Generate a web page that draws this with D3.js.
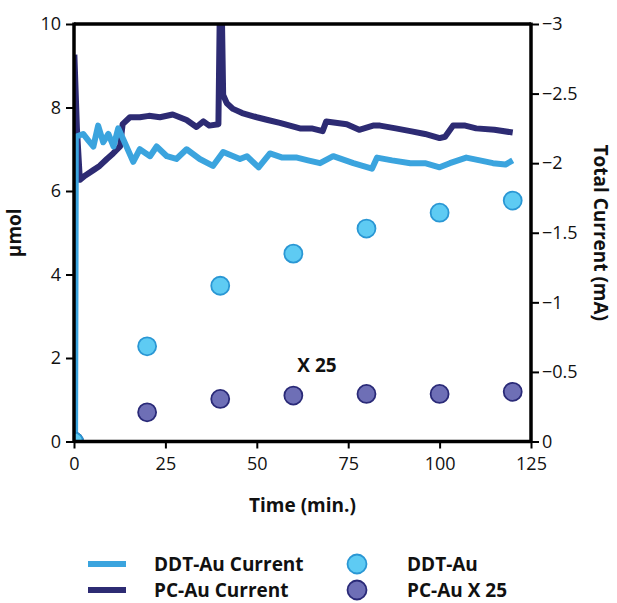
<!DOCTYPE html>
<html><head><meta charset="utf-8">
<script src="https://cdn.jsdelivr.net/npm/d3@7"></script>
<style>
html,body{margin:0;padding:0;background:#fff;}
text{font-family:"Open Sans",sans-serif;fill:#111;}
</style></head>
<body>
<svg id="chart" width="617" height="603"></svg>
<script>
// ---- data ----
const sampleTimes = [0, 20, 40, 60, 80, 100, 120];
const ddtAu = [0, 2.28, 3.73, 4.50, 5.10, 5.48, 5.77];        // µmol
const pcAuX25 = [0, 0.70, 1.02, 1.10, 1.14, 1.14, 1.19];      // µmol (x25)

const ddtCurrentTime = [0, 0.3, 0.5, 2.5, 4, 5.3, 6.6, 8, 9.4, 10.8, 12.1, 13.5, 16.2, 18, 20.8, 22.6, 25.4, 28, 30.8, 34.4, 38, 40.8, 45.4, 47.3, 50.5, 53.6, 57, 61, 64, 67.3, 70.9, 76.4, 81.5, 82.9, 87, 92, 96, 100, 102.8, 107.3, 111, 114.6, 118, 120];
const ddtCurrent = [0, 0, -2.19, -2.21, -2.16, -2.12, -2.27, -2.15, -2.21, -2.12, -2.25, -2.17, -2.01, -2.10, -2.05, -2.12, -2.05, -2.03, -2.10, -2.03, -1.98, -2.08, -2.03, -2.05, -1.97, -2.07, -2.04, -2.04, -2.02, -2.00, -2.05, -2.00, -1.96, -2.04, -2.02, -2.00, -2.00, -1.97, -2.00, -2.04, -2.02, -2.00, -1.99, -2.02];

const pcCurrentTime = [0.1, 0.8, 1.6, 3, 5.3, 7, 9, 10.7, 12.6, 13.3, 15.3, 18, 20.5, 23.5, 27, 30.8, 33.5, 35.4, 37, 39.5, 39.9, 40.4, 40.8, 41.8, 43.5, 46, 50, 53, 56.3, 61.8, 65, 68, 69, 74.6, 78, 81.8, 83.7, 88, 92, 96, 100, 101.5, 103.7, 107, 110, 115, 120];
const pcCurrent = [-2.78, -2.25, -1.88, -1.91, -1.95, -1.98, -2.03, -2.07, -2.12, -2.28, -2.33, -2.33, -2.34, -2.33, -2.35, -2.31, -2.26, -2.30, -2.27, -2.28, -3.15, -3.15, -2.49, -2.43, -2.39, -2.36, -2.33, -2.31, -2.29, -2.25, -2.25, -2.23, -2.30, -2.28, -2.24, -2.27, -2.27, -2.25, -2.23, -2.21, -2.18, -2.19, -2.27, -2.27, -2.25, -2.24, -2.22];

const xTicks = [0, 25, 50, 75, 100, 125];
const yLeftTicks = [0, 2, 4, 6, 8, 10];
const yRightTicks = [0, -0.5, -1, -1.5, -2, -2.5, -3];

// ---- layout ----
const svg = d3.select("#chart");
const L = 74, R = 531, T = 24, B = 441.5;
const cLightLine = "#3ba4de", cDarkLine = "#2d2b73";
const cLightFill = "#5ecbf3", cLightStroke = "#2a97d4";
const cDarkFill = "#6e6fb6", cDarkStroke = "#2a2a78";

const x = d3.scaleLinear().domain([0, 125]).range([L, R]);
const yL = d3.scaleLinear().domain([0, 10]).range([B, T]);
const yR = d3.scaleLinear().domain([0, -3]).range([B, T]);

svg.append("defs").append("clipPath").attr("id", "clip")
  .append("rect").attr("x", L).attr("y", T).attr("width", R - L).attr("height", B - T);

const plot = svg.append("g").attr("clip-path", "url(#clip)");

const line = d3.line().x(d => x(d[0])).y(d => yR(d[1]));
plot.append("path").datum(d3.zip(pcCurrentTime, pcCurrent))
  .attr("d", line).attr("fill", "none").attr("stroke", cDarkLine)
  .attr("stroke-width", 6).attr("stroke-linejoin", "round");
plot.append("path").datum(d3.zip(ddtCurrentTime, ddtCurrent))
  .attr("d", line).attr("fill", "none").attr("stroke", cLightLine)
  .attr("stroke-width", 6).attr("stroke-linejoin", "round");

plot.selectAll("circle.pc").data(d3.zip(sampleTimes, pcAuX25)).join("circle")
  .attr("class", "pc").attr("cx", d => x(d[0])).attr("cy", d => yL(d[1])).attr("r", 9)
  .attr("fill", cDarkFill).attr("stroke", cDarkStroke).attr("stroke-width", 1.8);
plot.selectAll("circle.ddt").data(d3.zip(sampleTimes, ddtAu)).join("circle")
  .attr("class", "ddt").attr("cx", d => x(d[0])).attr("cy", d => yL(d[1])).attr("r", 9)
  .attr("fill", cLightFill).attr("stroke", cLightStroke).attr("stroke-width", 1.8);

// ---- axes ----
function styleAxis(g) {
  g.select(".domain").remove();
  g.selectAll(".tick line").attr("stroke", "#000").attr("stroke-width", 2);
  g.selectAll(".tick text").style("font-size", "18px").style("font-family", "'Open Sans',sans-serif").attr("fill", "#111");
}
svg.append("g").attr("transform", `translate(${L},0)`)
  .call(d3.axisLeft(yL).tickValues(yLeftTicks).tickSize(8).tickPadding(5).tickFormat(d3.format("")))
  .call(styleAxis);
svg.append("g").attr("transform", `translate(${R},0)`)
  .call(d3.axisRight(yR).tickValues(yRightTicks).tickSize(8).tickPadding(3).tickFormat(d3.format("")))
  .call(styleAxis);
svg.append("g").attr("transform", `translate(0,${B})`)
  .call(d3.axisBottom(x).tickValues(xTicks).tickSize(7).tickPadding(9).tickFormat(d3.format("")))
  .call(styleAxis);

// frame lines
const frame = svg.append("g").attr("stroke", "#000").attr("stroke-width", 3.5);
frame.append("line").attr("x1", L).attr("x2", L).attr("y1", T - 1.5).attr("y2", B + 1.5);
frame.append("line").attr("x1", R).attr("x2", R).attr("y1", T - 1.5).attr("y2", B + 1.5);
frame.append("line").attr("x1", L).attr("x2", R).attr("y1", T).attr("y2", T);
frame.append("line").attr("x1", L).attr("x2", R).attr("y1", B).attr("y2", B);

// titles
svg.append("text").attr("x", (L + R) / 2).attr("y", 512).attr("text-anchor", "middle")
  .style("font-size", "19px").style("font-weight", "bold").text("Time (min.)");
svg.append("text").attr("transform", `translate(21,${(T + B) / 2}) rotate(-90)`).attr("text-anchor", "middle")
  .style("font-size", "19px").style("font-weight", "bold").text("µmol");
svg.append("text").attr("transform", `translate(594,${(T + B) / 2}) rotate(90)`).attr("text-anchor", "middle")
  .style("font-size", "19px").style("font-weight", "bold").text("Total Current (mA)");
svg.append("text").attr("x", 317).attr("y", 372).attr("text-anchor", "middle")
  .style("font-size", "19px").style("font-weight", "bold").text("X 25");

// legend
const legLines = [{label: "DDT-Au Current", color: cLightLine, y: 564}, {label: "PC-Au Current", color: cDarkLine, y: 590}];
const legDots = [{label: "DDT-Au", fill: cLightFill, stroke: cLightStroke, y: 564}, {label: "PC-Au X 25", fill: cDarkFill, stroke: cDarkStroke, y: 590}];
const lg = svg.append("g");
legLines.forEach(d => {
  lg.append("line").attr("x1", 88).attr("x2", 126).attr("y1", d.y).attr("y2", d.y)
    .attr("stroke", d.color).attr("stroke-width", 6);
  lg.append("text").attr("x", 154).attr("y", d.y).attr("dy", "0.35em")
    .style("font-size", "19px").style("font-weight", "bold").text(d.label);
});
legDots.forEach(d => {
  lg.append("circle").attr("cx", 357).attr("cy", d.y).attr("r", 9.5)
    .attr("fill", d.fill).attr("stroke", d.stroke).attr("stroke-width", 1.8);
  lg.append("text").attr("x", 407).attr("y", d.y).attr("dy", "0.35em")
    .style("font-size", "19px").style("font-weight", "bold").text(d.label);
});
</script>
</body></html>
